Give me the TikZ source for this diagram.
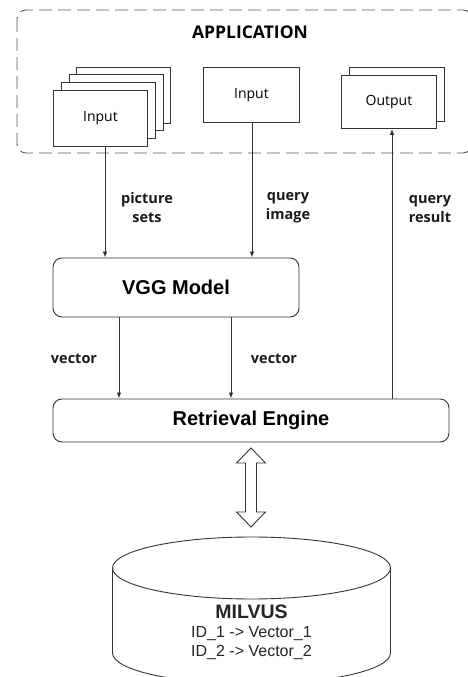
\documentclass[tikz,border=0pt]{standalone}
\usepackage{fontspec}
\setmainfont{Liberation Sans}
\newfontfamily\segoe{Open Sans}
\usetikzlibrary{arrows.meta}
\begin{document}
\begin{tikzpicture}[x=1pt,y=1pt,
  ln/.style={draw=black!80, line width=0.9pt},
  card/.style={ln, fill=white, minimum width=94pt, minimum height=56pt, inner sep=0pt, anchor=north west, font=\segoe\fontsize{14}{16}\selectfont},
  rbox/.style={ln, rounded corners=9pt, fill=white, inner sep=0pt, font=\bfseries\fontsize{20}{23}\selectfont},
  lbl/.style={font=\segoe\bfseries\fontsize{14.5}{18.5}\selectfont, align=center, text=black!90, inner sep=0pt},
  dbtxt/.style={inner sep=0pt, text=black!85},
  arr/.style={ln, -{Latex[length=6pt,width=4.5pt]}}]
\useasboundingbox (0,0) rectangle (467,677);
% application frame
\draw[ln, draw=black!65, dash pattern=on 13pt off 6pt, rounded corners=9pt] (17,667) rectangle (472,524);
\node[font=\segoe\bfseries\fontsize{17.5}{20}\selectfont, inner sep=0pt] (app) at (250,645) {APPLICATION};
% stacked inputs
\node[card] (in4) at (76,610) {};
\node[card] (in3) at (68.5,602.5) {};
\node[card] (in2) at (61,595) {};
\node[card] (in1) at (53,587) {Input};
% query input
\node[card, minimum width=96pt, minimum height=55pt] (qin) at (203,610) {Input};
% output
\node[card, minimum width=95pt, minimum height=54pt] (out2) at (349,610) {};
\node[card, minimum width=95pt, minimum height=53pt] (out1) at (341,602) {Output};
% VGG and retrieval
\node[rbox, minimum width=246pt, minimum height=59pt] (vgg) at (176,389.5) {VGG Model};
\node[rbox, minimum width=396pt, minimum height=43pt] (ret) at (251,256.5) {Retrieval Engine};
% connectors
\draw[arr] (in1.south -| 105,0) -- (vgg.north -| 105,0);
\draw[arr] (qin.south -| 252,0) -- (vgg.north -| 252,0);
\draw[arr] (ret.north -| 392,0) -- (out1.south -| 392,0);
\draw[arr] (vgg.south -| 119,0) -- (ret.north -| 119,0);
\draw[arr] (vgg.south -| 231,0) -- (ret.north -| 231,0);
% labels
\node[lbl] (l1) at (147,469.5) {picture\\sets};
\node[lbl] (l2) at (288,469.5) {query\\image};
\node[lbl] (l3) at (430,468) {query\\result};
\node[lbl] (l4) at (74,318) {vector};
\node[lbl] (l5) at (274,318) {vector};
% double block arrow
\draw[ln, fill=white, line join=miter] (251,229) -- (265.5,214) -- (256.5,214) -- (256.5,165) -- (265.5,165)
  -- (251,150) -- (236.5,165) -- (245.5,165) -- (245.5,214) -- (236.5,214) -- cycle;
% cylinder
\draw[ln, fill=white] (112.5,109) -- (112.5,24) arc[start angle=180, end angle=360, x radius=139pt, y radius=31pt] -- (390.5,109);
\draw[ln] (251.5,109) ellipse[x radius=139pt, y radius=31pt];
\node[dbtxt, font=\bfseries\fontsize{19.5}{22}\selectfont] (db) at (251.5,65) {MILVUS};
\node[dbtxt, font=\fontsize{16}{19}\selectfont] (id1) at (251.5,43) {ID\_1 -> Vector\_1};
\node[dbtxt, font=\fontsize{16}{19}\selectfont] (id2) at (251.5,24) {ID\_2 -> Vector\_2};
\end{tikzpicture}
\end{document}
